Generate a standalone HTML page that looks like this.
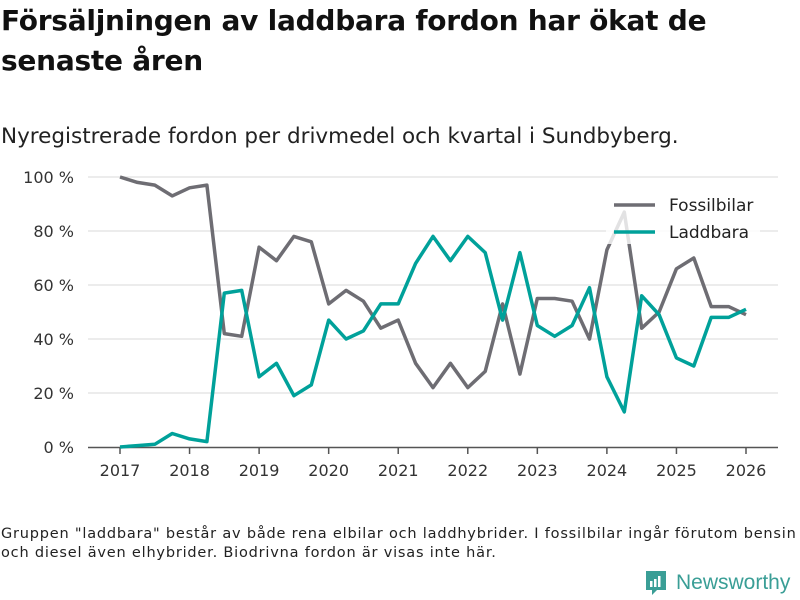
<!DOCTYPE html>
<html><head><meta charset="utf-8">
<style>
body{margin:0;background:#fff;width:800px;height:600px;overflow:hidden;font-family:"DejaVu Sans","Liberation Sans",sans-serif;color:#111}
#title{position:absolute;left:1px;top:1px;font-size:28px;font-weight:bold;line-height:40px;letter-spacing:-0.25px;margin:0;white-space:nowrap}
#sub{position:absolute;left:1px;top:124px;font-size:21.5px;color:#222;letter-spacing:0px;white-space:nowrap}
#foot{position:absolute;left:1px;top:525px;font-size:14.5px;line-height:19px;color:#222;letter-spacing:0.8px;white-space:nowrap}
#logo{position:absolute;left:644px;top:569px;display:flex;align-items:center}
svg text{font-family:"DejaVu Sans","Liberation Sans",sans-serif}
</style></head><body>
<h1 id="title">Försäljningen av laddbara fordon har ökat de<br>senaste åren</h1>
<div id="sub">Nyregistrerade fordon per drivmedel och kvartal i Sundbyberg.</div>
<svg id="chart" width="800" height="600" style="position:absolute;left:0;top:0"></svg>
<div id="foot">Gruppen "laddbara" består av både rena elbilar och laddhybrider. I fossilbilar ingår förutom bensin<br>och diesel även elhybrider. Biodrivna fordon är visas inte här.</div>
<div id="logo">
<svg width="24" height="28" viewBox="0 0 24 28"><path d="M2 2h20v19H13l-5 5v-5H2z" fill="#3a9e96"/><rect x="6" y="12" width="2.5" height="6" fill="#fff"/><rect x="10" y="10" width="2.5" height="8" fill="#fff"/><rect x="14" y="7" width="2.5" height="11" fill="#fff"/></svg>
<span style="font-size:21px;color:#3a9e96;margin-left:8px;font-family:'Liberation Sans',sans-serif">Newsworthy</span></div>
<script>
const years=[2017,2018,2019,2020,2021,2022,2023,2024,2025,2026];
const yTicks=[0,20,40,60,80,100];
const fossil=[100,98,97,93,96,97,42,41,74,69,78,76,53,58,54,44,47,31,22,31,22,28,53,27,55,55,54,40,73,87,44,50,66,70,52,52,49];
const laddbara=[0,0.5,1,5,3,2,57,58,26,31,19,23,47,40,43,53,53,68,78,69,78,72,47,72,45,41,45,59,26,13,56,49,33,30,48,48,51];
const startYear=2017;
const svg=document.getElementById('chart');
const NS='http://www.w3.org/2000/svg';
const x=t=>120+(t-2017)*(746-120)/9;
const y=v=>447-v*2.7;
function mk(tag,attrs){const e=document.createElementNS(NS,tag);for(const k in attrs)e.setAttribute(k,attrs[k]);svg.appendChild(e);return e;}
yTicks.forEach(v=>{
  if(v>0){const g=mk('line',{x1:88,x2:778,y1:y(v),y2:y(v),stroke:'#e0e0e0','stroke-width':1.2});
  
  }
  const t=mk('text',{x:74,y:y(v)+6,'text-anchor':'end','font-size':16,fill:'#333'});
  t.textContent=v+' %';
  
  
});
const ax=mk('line',{x1:88,x2:778,y1:447.5,y2:447.5,stroke:'#555','stroke-width':1.5});


years.forEach(yr=>{
  const tk=mk('line',{x1:x(yr),x2:x(yr),y1:448,y2:454,stroke:'#555','stroke-width':1.5});
  
  
  const t=mk('text',{x:x(yr),y:476,'text-anchor':'middle','font-size':16,fill:'#333'});
  t.textContent=yr;
  
  
});
function series(vals,color,name){
  const d=vals.map((v,i)=>(i?'L':'M')+x(startYear+i/4).toFixed(1)+','+y(v).toFixed(1)).join('');
  const p=mk('path',{d:d,fill:'none',stroke:color,'stroke-width':3.5,'stroke-linejoin':'round'});
  
  
}
series(fossil,'#6e6d73','fossilbilar-line');
series(laddbara,'#00a19a','laddbara-line');
const lb=mk('rect',{x:606,y:190,width:154,height:54,fill:'#fff','fill-opacity':0.8});


[['Fossilbilar','#6e6d73',205],['Laddbara','#00a19a',232]].forEach(([n,c,yy])=>{
  const l=mk('line',{x1:614,x2:655,y1:yy,y2:yy,stroke:c,'stroke-width':3.5});
  
  
  const t=mk('text',{x:669,y:yy+6,'font-size':17,fill:'#222'});
  t.textContent=n;
  
  
});
</script>
</body></html>
